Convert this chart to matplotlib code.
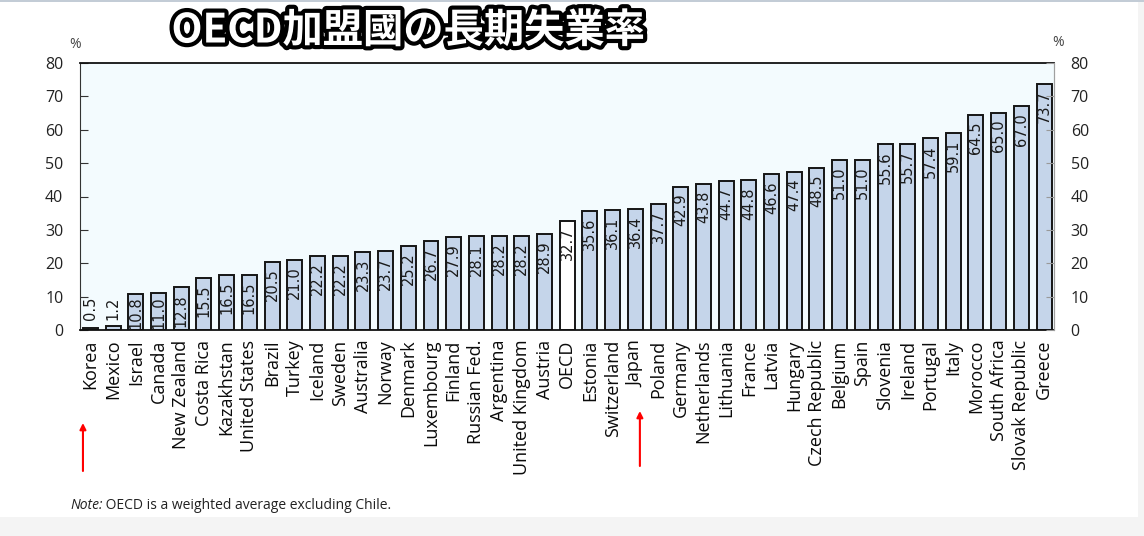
import numpy as np
import matplotlib
matplotlib.use('Agg')
import matplotlib.pyplot as plt
import matplotlib.patheffects as pe
import matplotlib.transforms as mtransforms
from matplotlib.patches import Rectangle

countries = ['Korea', 'Mexico', 'Israel', 'Canada', 'New Zealand', 'Costa Rica', 'Kazakhstan',
             'United States', 'Brazil', 'Turkey', 'Iceland', 'Sweden', 'Australia', 'Norway',
             'Denmark', 'Luxembourg', 'Finland', 'Russian Fed.', 'Argentina', 'United Kingdom',
             'Austria', 'OECD', 'Estonia', 'Switzerland', 'Japan', 'Poland', 'Germany',
             'Netherlands', 'Lithuania', 'France', 'Latvia', 'Hungary', 'Czech Republic',
             'Belgium', 'Spain', 'Slovenia', 'Ireland', 'Portugal', 'Italy', 'Morocco',
             'South Africa', 'Slovak Republic', 'Greece']
values = [0.5, 1.2, 10.8, 11.0, 12.8, 15.5, 16.5, 16.5, 20.5, 21.0, 22.2, 22.2, 23.3, 23.7,
          25.2, 26.7, 27.9, 28.1, 28.2, 28.2, 28.9, 32.7, 35.6, 36.1, 36.4, 37.7, 42.9, 43.8,
          44.7, 44.8, 46.6, 47.4, 48.5, 51.0, 51.0, 55.6, 55.7, 57.4, 59.1, 64.5, 65.0, 67.0,
          73.7]
highlight = 'OECD'
arrow_targets = ['Korea', 'Japan']
yticks = [0, 10, 20, 30, 40, 50, 60, 70, 80]
title = 'OECD加盟國の長期失業率'
note_italic = 'Note:'
note_rest = ' OECD is a weighted average excluding Chile.'

W, H = 1144, 536
fig = plt.figure(figsize=(W / 100, H / 100), dpi=100)
fig.patch.set_facecolor('white')

# light frame bands of the screenshot
fig.patches.append(Rectangle((0, 0), 1, 19 / H, transform=fig.transFigure,
                             facecolor='#F4F4F4', edgecolor='none', zorder=0))
fig.patches.append(Rectangle((1138 / W, 0), 6 / W, 1, transform=fig.transFigure,
                             facecolor='#F4F4F4', edgecolor='none', zorder=0))
fig.patches.append(Rectangle((0, 1 - 2 / H), 1, 2 / H, transform=fig.transFigure,
                             facecolor='#C3CCD6', edgecolor='none', zorder=0))

ax = fig.add_axes([80 / W, 1 - 330 / H, (1054 - 80) / W, (330 - 63) / H])
ax.set_facecolor('#F3FBFE')

x = np.arange(len(countries))
colors = ['white' if c == highlight else '#C5D5EA' for c in countries]
ax.bar(x, values, width=0.66, color=colors, edgecolor='#151515', linewidth=1.4, zorder=2)

ax.set_xlim(-0.46, len(countries) - 1 + 0.44)
ax.set_ylim(0, 80)
ax.set_yticks(yticks)
ax.tick_params(axis='y', direction='in', length=6, labelsize=11.5, pad=12,
               colors='#333333', labelcolor='#222222')
for lab in ax.get_yticklabels():
    lab.set_family('Open Sans')

ax.set_xticks(x)
ax.set_xticklabels(countries, rotation=90, fontsize=13, family='Open Sans', color='#0a0a0a')
ax.tick_params(axis='x', length=0, pad=7)

ax.spines['left'].set_color('#333333')
ax.spines['top'].set_color('#111111')
ax.spines['top'].set_linewidth(1.3)
ax.spines['bottom'].set_color('#111111')
ax.spines['bottom'].set_linewidth(1.3)
ax.spines['right'].set_color('#A0A0A0')

ax2 = ax.twinx()
ax2.set_ylim(0, 80)
ax2.set_yticks(yticks)
ax2.tick_params(axis='y', direction='in', length=6, labelsize=11.5, pad=12,
                colors='#999999', labelcolor='#222222')
for lab in ax2.get_yticklabels():
    lab.set_family('Open Sans')
for s in ['left', 'top', 'bottom']:
    ax2.spines[s].set_visible(False)
ax2.spines['right'].set_color('#A0A0A0')

# value labels inside bars
for xi, v in zip(x, values):
    ytop = max(v - 2.0, 10.0)
    ax.text(xi, ytop, f'{v:.1f}', rotation=90, ha='center', va='top',
            fontsize=10.5, family='DejaVu Sans', color='#1a1a1a', zorder=3)

# percent signs
fig.text(75 / W, 1 - 44 / H, '%', ha='center', va='center', fontsize=10,
         family='Open Sans', color='#444444')
fig.text(1058 / W, 1 - 42 / H, '%', ha='center', va='center', fontsize=10,
         family='Open Sans', color='#444444')

# title
fig.text(408 / W, 1 - 31 / H, title, ha='center', va='center', fontsize=29,
         fontweight='bold', family=['Noto Sans CJK JP', 'DejaVu Sans'], color='white',
         path_effects=[pe.withStroke(linewidth=6, foreground='black')])

# red arrows
trans = mtransforms.blended_transform_factory(ax.transData, fig.transFigure)
arrow_spec = {'Korea': (-0.33, 423, 471), 'Japan': (0.2, 411, 466)}
for name in arrow_targets:
    dx, ytop_px, ybot_px = arrow_spec[name]
    xi = countries.index(name) + dx
    ax.annotate('', xy=(xi, 1 - ytop_px / H), xycoords=trans,
                xytext=(xi, 1 - ybot_px / H), textcoords=trans,
                arrowprops=dict(arrowstyle='-|>', color='red', lw=1.5, mutation_scale=9,
                                shrinkA=0, shrinkB=0),
                annotation_clip=False)

# note
t1 = fig.text(70 / W, 1 - 513 / H, note_italic, ha='left', va='bottom', fontsize=10,
              family='Open Sans', style='italic', color='#222222')
ax.annotate(note_rest, xy=(1, 0), xycoords=t1, ha='left', va='bottom', fontsize=10,
            family='Open Sans', color='#222222', annotation_clip=False)

fig.savefig('out.png', dpi=100)
